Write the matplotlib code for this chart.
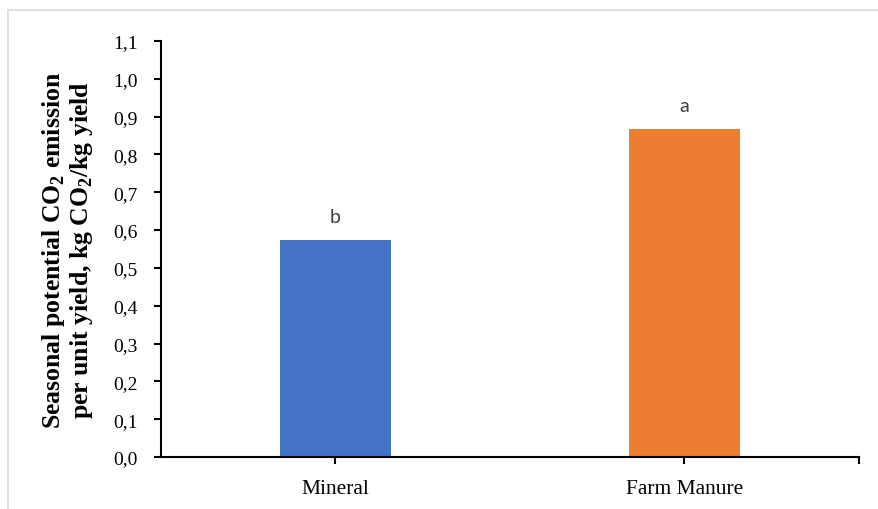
import matplotlib
matplotlib.use("Agg")
import matplotlib.pyplot as plt
from matplotlib.patches import Rectangle
from matplotlib.ticker import FuncFormatter

categories = ["Mineral", "Farm Manure"]
values = [0.573, 0.866]
letters = ["b", "a"]
colors = ["#4472C4", "#ED7D31"]
yticks = [0.0, 0.1, 0.2, 0.3, 0.4, 0.5, 0.6, 0.7, 0.8, 0.9, 1.0, 1.1]

plt.rcParams['mathtext.fontset'] = 'custom'
plt.rcParams['mathtext.rm'] = 'Liberation Serif'
plt.rcParams['mathtext.bf'] = 'Liberation Serif:bold'

fig = plt.figure(figsize=(8.79, 5.10), dpi=100)
fig.patches.append(Rectangle((8/879, -0.05), 1.2, 1 - 11/510 + 0.05, transform=fig.transFigure,
                             fill=False, edgecolor="#D9D9D9", linewidth=1.2))
ax = fig.add_axes([161/879, 1 - 458/510, (859 - 161)/879, (458 - 42)/510])

x = list(range(len(categories)))
ax.bar(x, values, width=0.316, color=colors, zorder=2)
for xi, v, l in zip(x, values, letters):
    ax.text(xi, v + 0.064, l, ha="center", va="center", fontsize=14,
            color="#404040", family="Lato")

ax.set_xlim(-0.5, 1.5)
ax.set_ylim(0, 1.1)
ax.set_yticks(yticks)
ax.yaxis.set_major_formatter(FuncFormatter(lambda v, p: f"{v:.1f}".replace(".", ",")))
ax.set_xticks(x)
ax.set_xticklabels(categories)
ax.set_xticks([1.5], minor=True)

for s in ["top", "right"]:
    ax.spines[s].set_visible(False)
for s in ["left", "bottom"]:
    ax.spines[s].set_linewidth(1.5)
    ax.spines[s].set_color("black")

ax.tick_params(axis="y", direction="out", length=5, width=1.5, pad=12,
               labelsize=14, labelfontfamily="Liberation Serif")
ax.tick_params(axis="x", which="both", direction="out", length=5, width=1.5, pad=11,
               labelsize=15.5, labelfontfamily="Liberation Serif")

ax.set_ylabel("Seasonal potential CO$_\\mathbf{2}$ emission\nper unit yield, kg CO$_\\mathbf{2}$/kg yield",
              fontsize=18.5, fontweight="bold", family="Liberation Serif", linespacing=1.05)
ax.yaxis.set_label_coords(-0.095, 0.5)

fig.savefig("out.png", dpi=100)
